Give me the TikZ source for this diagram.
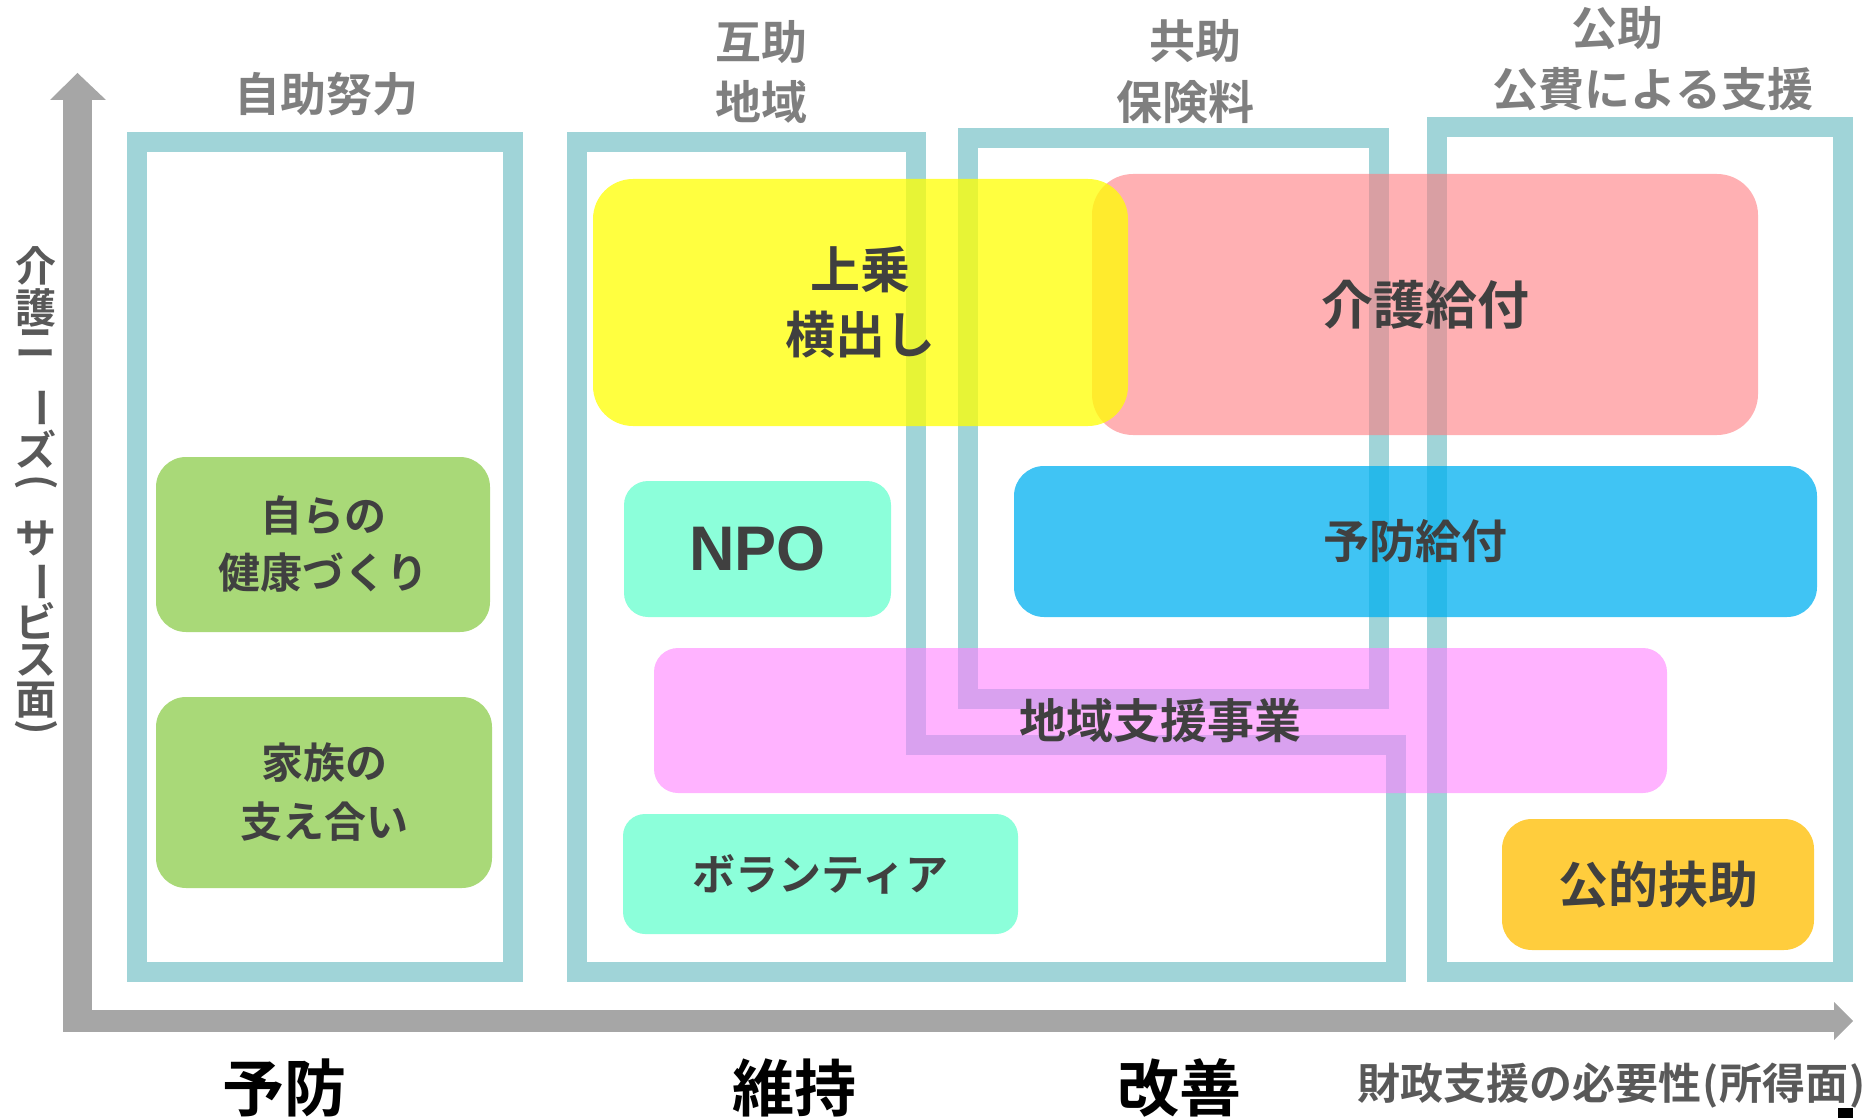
\documentclass[tikz,border=0pt]{standalone}
\usepackage{fontspec}
\setmainfont{Noto Sans CJK JP}[BoldFont={Noto Sans CJK JP Bold}]
\newfontfamily\latinfont{Liberation Sans}
\definecolor{frameC}{HTML}{A0D4D8}
\definecolor{axisC}{HTML}{A6A6A6}
\definecolor{titleC}{HTML}{7F7F7F}
\definecolor{boxT}{HTML}{404040}
\definecolor{labC}{HTML}{595959}
\definecolor{yelC}{HTML}{FFFF00}
\definecolor{pinkC}{HTML}{FF7C80}
\definecolor{blueC}{HTML}{00B0F0}
\definecolor{magC}{HTML}{FF80FF}
\definecolor{greenC}{HTML}{A9D978}
\definecolor{mintC}{HTML}{8CFFDA}
\definecolor{goldC}{HTML}{FFCD3D}
\begin{document}
\begin{tikzpicture}[x=1pt,y=-1pt,
  frame/.style={draw=frameC, line width=20pt},
  title/.style={text=titleC, inner sep=0pt, font=\fontsize{46}{60}\selectfont\bfseries},
  boxbase/.style={inner sep=0pt, align=center, text=boxT, text opacity=1},
  vch/.style={text=labC, inner sep=0pt, font=\fontsize{41}{41}\selectfont\bfseries},
  axlab/.style={text=black, inner sep=0pt, font=\fontsize{62}{62}\selectfont\bfseries}
]
\useasboundingbox (0,0) rectangle (1872,1118);

% axes
\fill[axisC] (63,100) rectangle (92,1032);
\fill[axisC] (50,100) -- (77.5,73) -- (106,100) -- cycle;
\fill[axisC] (63,1010) rectangle (1834,1032);
\fill[axisC] (1834,1002) -- (1853,1021) -- (1834,1040) -- cycle;

% frames
\draw[frame] (137,142.5) rectangle (513,971.5);
\draw[frame] (576.5,142.5) -- (915.5,142.5) -- (915.5,745) -- (1395.5,745) -- (1395.5,971.5) -- (576.5,971.5) -- cycle;
\draw[frame] (968,138.5) rectangle (1379,699);
\draw[frame] (1437,127) rectangle (1843,971.5);

% titles
\node[title] (t1) at (326,94) {自助努力};
\node[title] (t2a) at (761,42) {互助};
\node[title] (t2b) at (761,102) {地域};
\node[title] (t3a) at (1195,41) {共助};
\node[title] (t3b) at (1185,102) {保険料};
\node[title] (t4a) at (1617,28) {公助};
\node[title] (t4b) at (1653,89) {公費による支援};

% boxes
\node[boxbase, fill=pinkC, fill opacity=.6, rounded corners=41pt,
  minimum width=666pt, minimum height=261pt,
  font=\fontsize{52}{60}\selectfont\bfseries] (kaigo) at (1425,304.5) {介護給付};
\node[boxbase, fill=yelC, fill opacity=.75, rounded corners=40pt,
  minimum width=535pt, minimum height=247pt,
  font=\fontsize{50}{65}\selectfont\bfseries] (uwa) at (860.5,302.5) {上乗\\横出し};
\node[boxbase, fill=blueC, fill opacity=.75, rounded corners=30pt,
  minimum width=803pt, minimum height=151pt,
  font=\fontsize{46}{50}\selectfont\bfseries] (yobo) at (1415.5,541.5) {予防給付};
\node[boxbase, fill=magC, fill opacity=.6, rounded corners=24pt,
  minimum width=1013pt, minimum height=145pt,
  font=\fontsize{47}{50}\selectfont\bfseries] (chiiki) at (1160.5,720.5) {地域支援事業};
\node[boxbase, fill=mintC, rounded corners=24pt,
  minimum width=267pt, minimum height=136pt,
  font=\latinfont\fontsize{63}{63}\selectfont\bfseries] (npo) at (757.5,549) {NPO};
\node[boxbase, fill=mintC, rounded corners=22pt,
  minimum width=395pt, minimum height=120pt,
  font=\fontsize{43}{50}\selectfont\bfseries] (vol) at (820.5,874) {ボランティア};
\node[boxbase, fill=greenC, rounded corners=30pt,
  minimum width=334pt, minimum height=175pt,
  font=\fontsize{42}{57}\selectfont\bfseries] (g1) at (323,544.5) {自らの\\健康づくり};
\node[boxbase, fill=greenC, rounded corners=30pt,
  minimum width=336pt, minimum height=191pt,
  font=\fontsize{42}{59}\selectfont\bfseries] (g2) at (324,792.5) {家族の\\支え合い};
\node[boxbase, fill=goldC, rounded corners=30pt,
  minimum width=312pt, minimum height=131pt,
  font=\fontsize{50}{50}\selectfont\bfseries] (koteki) at (1658,884.5) {公的扶助};

% vertical axis label
\node[vch] (v1) at (36,266) {介};
\node[vch] (v2) at (36,308) {護};
\node[vch] (v3) at (36,344) {ニ};
\node[vch, rotate=-90] (v4) at (36,408) {ー};
\node[vch] (v5) at (36,449) {ズ};
\node[vch, rotate=-90] (v6) at (36,482) {(};
\node[vch] (v7) at (36,538) {サ};
\node[vch, rotate=-90] (v8) at (36,582) {ー};
\node[vch] (v9) at (36,621) {ビ};
\node[vch] (v10) at (36,660) {ス};
\node[vch] (v11) at (36,700) {面};
\node[vch, rotate=-90] (v12) at (36,727) {)};

% bottom labels
\node[axlab] (b1) at (284,1088) {予防};
\node[axlab] (b2) at (794,1088) {維持};
\node[axlab] (b3) at (1179,1088) {改善};
\node[text=labC, inner sep=0pt, font=\fontsize{43}{46}\selectfont\bfseries] (b4) at (1612,1086) {財政支援の必要性\makebox[18pt]{(}所得面\makebox[18pt]{)}};
\fill[black] (1838,1108) rectangle (1853,1118);
\end{tikzpicture}
\end{document}
